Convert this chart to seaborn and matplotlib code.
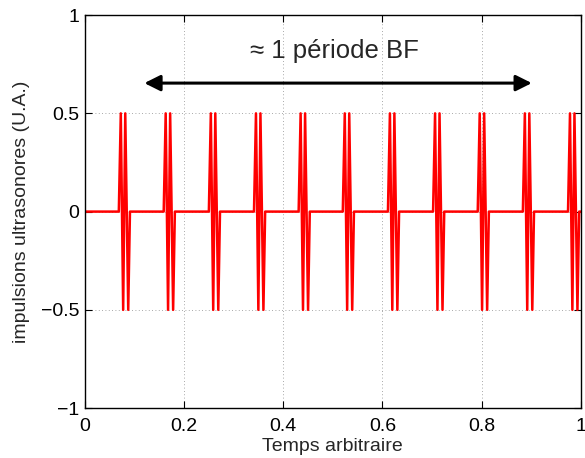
import numpy as np
import pandas as pd
import matplotlib
matplotlib.use("Agg")
import matplotlib.pyplot as plt
import seaborn as sns

# Data
pulse_starts = [0.0685, 0.159, 0.250, 0.341, 0.431, 0.520, 0.611, 0.702, 0.792, 0.883, 0.974]
pulse_offsets = [0.0, 0.0040, 0.0088, 0.0130, 0.0190, 0.0225]
pulse_values = [0.0, 0.5, -0.5, 0.5, -0.5, 0.0]
x_ticks = [0, 0.2, 0.4, 0.6, 0.8, 1]
y_ticks = [-1, -0.5, 0, 0.5, 1]
arrow_span = [0.12, 0.901]
arrow_y = 0.654
annot_text = "≈ 1 période BF"

t = [0.0]
v = [0.0]
for s in pulse_starts:
    for o, val in zip(pulse_offsets, pulse_values):
        t.append(s + o)
        v.append(val)
t.append(1.0)
v.append(0.0)
df = pd.DataFrame({"t": t, "v": v})

sns.set_style("ticks")
plt.rcParams["font.family"] = ["Liberation Sans", "DejaVu Sans"]
plt.rcParams["axes.linewidth"] = 1.0

fig = plt.figure(figsize=(5.85, 4.58), dpi=100)
ax = fig.add_axes([0.145, 0.109, 0.848, 0.858])

sns.lineplot(data=df, x="t", y="v", ax=ax, color="red", lw=1.8,
             estimator=None, sort=False)

ax.set_xlim(0, 1)
ax.set_ylim(-1, 1)
ax.set_xticks(x_ticks)
ax.set_xticklabels([f"{x:g}" for x in x_ticks])
ax.set_yticks(y_ticks)
ax.set_yticklabels([f"{y:g}".replace("-", "\u2212") for y in y_ticks])
ax.grid(True, linestyle=(0, (1, 3)), color="0.55", lw=0.6)
ax.tick_params(direction="in", top=True, right=True, length=5, width=0.8,
               labelsize=14, colors="k")
ax.tick_params(axis="x", pad=7)
ax.tick_params(axis="y", pad=4)
for sp in ax.spines.values():
    sp.set_visible(True)
    sp.set_color("k")

ax.set_xlabel("Temps arbitraire", fontsize=14, labelpad=2)
ax.set_ylabel("impulsions ultrasonores (U.A.)", fontsize=14, labelpad=8)

ax.annotate("", xy=(arrow_span[0], arrow_y), xytext=(arrow_span[1], arrow_y),
            arrowprops=dict(arrowstyle="<|-|>", lw=2.2, color="k",
                            mutation_scale=24, shrinkA=0, shrinkB=0))
ax.text(0.503, 0.815, annot_text, ha="center", va="center", fontsize=18.5)

fig.savefig("out.png", dpi=100)
